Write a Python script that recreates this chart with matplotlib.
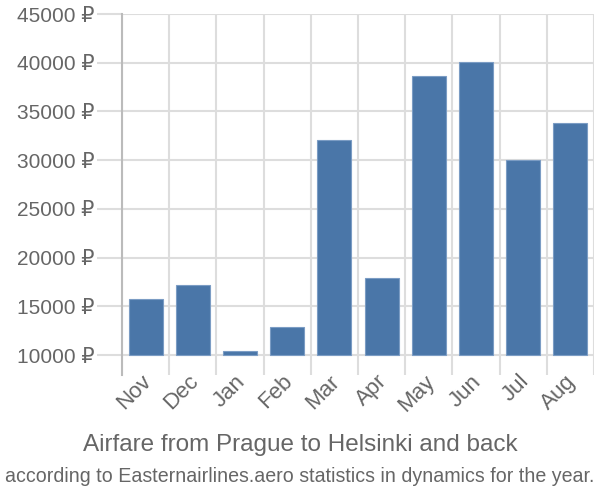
import matplotlib
matplotlib.use("Agg")
import matplotlib.pyplot as plt
import matplotlib.transforms as mtransforms
import numpy as np

months = ["Nov", "Dec", "Jan", "Feb", "Mar", "Apr", "May", "Jun", "Jul", "Aug"]
prices = [15750, 17180, 10410, 12870, 32070, 17900, 38640, 40070, 30010, 33810]
yticks = [10000, 15000, 20000, 25000, 30000, 35000, 40000, 45000]
title = "Airfare from Prague to Helsinki and back"
subtitle = "according to Easternairlines.aero statistics in dynamics for the year."

plt.rcParams['font.family'] = ['Liberation Sans', 'DejaVu Sans']

fig = plt.figure(figsize=(6, 5), dpi=100)
ax = fig.add_axes([122/600, 1-375/500, (594-122)/600, (375-14)/500])

base = 10000
x = np.arange(len(months))
ax.bar(x, np.array(prices) - base, bottom=base, width=0.72, color="#4a76a8",
       edgecolor="#7b9cc4", linewidth=0.8, zorder=3)

ax.set_xlim(-0.5, len(months) - 0.5)
ax.set_ylim(7950, 45000)
ax.set_yticks(yticks)
ax.set_yticklabels([f"{v} ₽" for v in yticks])
ax.set_xticks(x)
ax.set_xticklabels(months, rotation=45, ha="right", va="top", rotation_mode="anchor")

ax.set_xticks(np.arange(len(months) + 1) - 0.5, minor=True)
ax.grid(False)
ax.yaxis.grid(True, color="#dddddd", linewidth=1.5, zorder=0)
ax.xaxis.grid(True, which="minor", color="#dddddd", linewidth=1.5, zorder=0)

for s in ["top", "right", "bottom"]:
    ax.spines[s].set_visible(False)
ax.spines["left"].set_color("#bbbbbb")
ax.spines["left"].set_linewidth(1.5)

ax.tick_params(axis="y", which="major", length=18, color="#dddddd", width=1.5,
               labelsize=15, labelcolor="#666666", pad=2)
ax.tick_params(axis="x", which="major", length=0, labelsize=16, labelcolor="#666666", pad=0)
ax.tick_params(axis="x", which="minor", length=0)

offset = mtransforms.ScaledTranslation(-5/100, 4/100, fig.dpi_scale_trans)
for lab in ax.get_xticklabels():
    lab.set_transform(lab.get_transform() + offset)

fig.text(0.5, 1-445/500, title, ha="center", va="center", fontsize=17.5, color="#666666")
fig.text(0.5, 1-476/500, subtitle, ha="center", va="center", fontsize=14.1, color="#666666")

fig.savefig("out.png", dpi=100)
